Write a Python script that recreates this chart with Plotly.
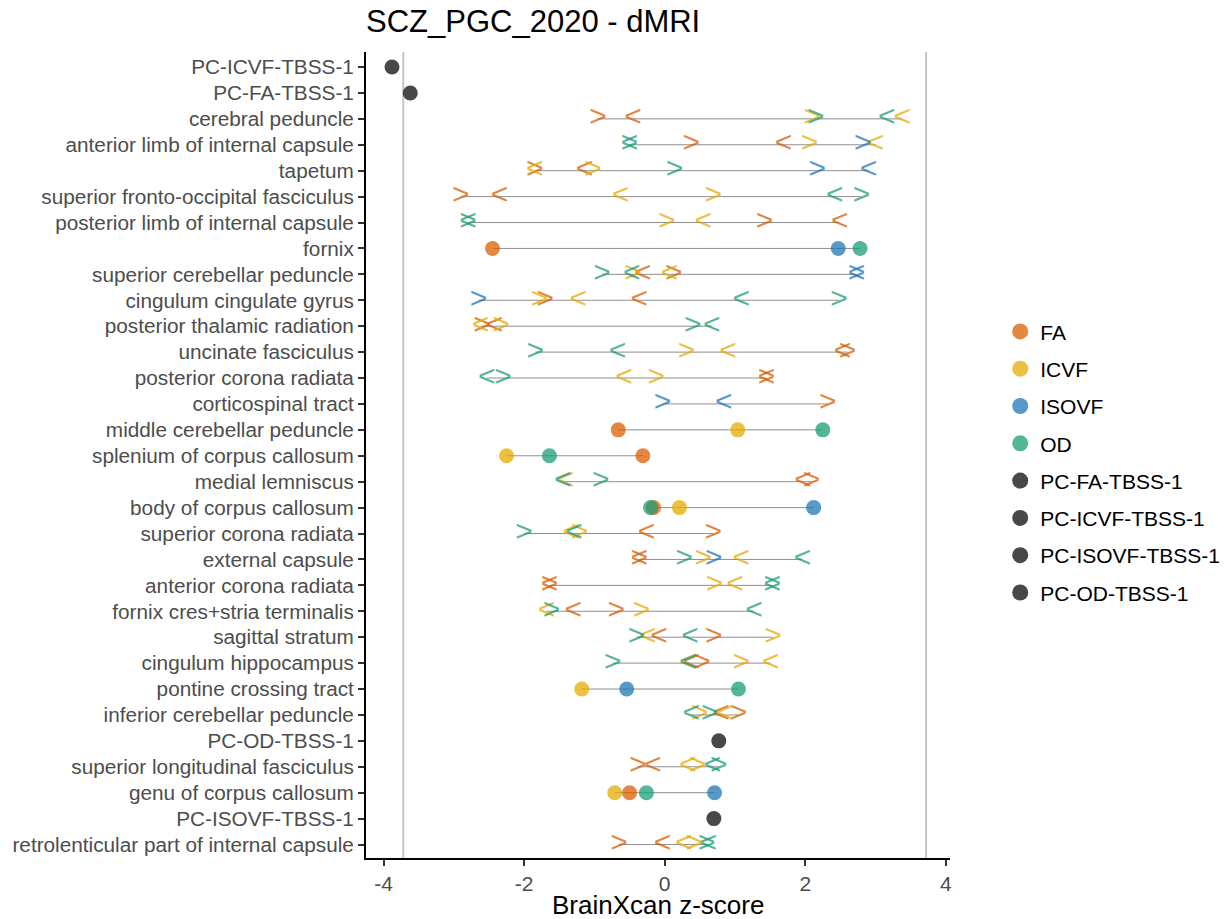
import plotly.graph_objects as go

# ---------------- data ----------------
regions = [
    "PC-ICVF-TBSS-1", "PC-FA-TBSS-1", "cerebral peduncle",
    "anterior limb of internal capsule", "tapetum",
    "superior fronto-occipital fasciculus", "posterior limb of internal capsule",
    "fornix", "superior cerebellar peduncle", "cingulum cingulate gyrus",
    "posterior thalamic radiation", "uncinate fasciculus", "posterior corona radiata",
    "corticospinal tract", "middle cerebellar peduncle", "splenium of corpus callosum",
    "medial lemniscus", "body of corpus callosum", "superior corona radiata",
    "external capsule", "anterior corona radiata", "fornix cres+stria terminalis",
    "sagittal stratum", "cingulum hippocampus", "pontine crossing tract",
    "inferior cerebellar peduncle", "PC-OD-TBSS-1", "superior longitudinal fasciculus",
    "genu of corpus callosum", "PC-ISOVF-TBSS-1", "retrolenticular part of internal capsule",
]

modalities = ["FA", "ICVF", "ISOVF", "OD"]
pc_names = ["PC-FA-TBSS-1", "PC-ICVF-TBSS-1", "PC-ISOVF-TBSS-1", "PC-OD-TBSS-1"]
pc_values = [-3.62, -3.88, 0.70, 0.77]

threshold = 3.72
x_ticks = [-4, -2, 0, 2, 4]

# circles (midline tracts)
fa_circle = {"fornix": -2.45, "middle cerebellar peduncle": -0.66,
             "splenium of corpus callosum": -0.31, "body of corpus callosum": -0.16,
             "genu of corpus callosum": -0.50}
icvf_circle = {"middle cerebellar peduncle": 1.04, "splenium of corpus callosum": -2.25,
               "body of corpus callosum": 0.21, "pontine crossing tract": -1.18,
               "genu of corpus callosum": -0.71}
isovf_circle = {"fornix": 2.47, "body of corpus callosum": 2.12,
                "pontine crossing tract": -0.54, "genu of corpus callosum": 0.71}
od_circle = {"fornix": 2.78, "middle cerebellar peduncle": 2.25,
             "splenium of corpus callosum": -1.64, "body of corpus callosum": -0.20,
             "pontine crossing tract": 1.05, "genu of corpus callosum": -0.26}

# ">" markers
fa_gt = {"cerebral peduncle": -0.95, "anterior limb of internal capsule": 0.38,
         "tapetum": -1.85, "superior fronto-occipital fasciculus": -2.90,
         "posterior limb of internal capsule": 1.42, "superior cerebellar peduncle": 0.13,
         "cingulum cingulate gyrus": -1.70, "posterior thalamic radiation": -2.60,
         "uncinate fasciculus": 2.60, "posterior corona radiata": 1.45,
         "corticospinal tract": 2.32, "medial lemniscus": 2.09,
         "superior corona radiata": 0.69, "external capsule": -0.36,
         "anterior corona radiata": -1.64, "fornix cres+stria terminalis": -0.69,
         "sagittal stratum": 0.70, "cingulum hippocampus": 0.53,
         "inferior cerebellar peduncle": 1.05, "superior longitudinal fasciculus": -0.38,
         "retrolenticular part of internal capsule": -0.65}
icvf_gt = {"cerebral peduncle": 2.10, "anterior limb of internal capsule": 2.06,
           "tapetum": -1.02, "superior fronto-occipital fasciculus": 0.69,
           "posterior limb of internal capsule": 0.03, "superior cerebellar peduncle": -0.45,
           "cingulum cingulate gyrus": -1.78, "posterior thalamic radiation": -2.33,
           "uncinate fasciculus": 0.31, "posterior corona radiata": -0.12,
           "superior corona radiata": -1.21, "external capsule": 0.55,
           "anterior corona radiata": 0.71, "fornix cres+stria terminalis": -0.33,
           "sagittal stratum": 1.54, "cingulum hippocampus": 1.09,
           "inferior cerebellar peduncle": 0.50, "superior longitudinal fasciculus": 0.47,
           "retrolenticular part of internal capsule": 0.42}
isovf_gt = {"anterior limb of internal capsule": 2.82, "tapetum": 2.17,
            "superior cerebellar peduncle": 2.73, "cingulum cingulate gyrus": -2.65,
            "corticospinal tract": -0.03, "external capsule": 0.70}
od_gt = {"cerebral peduncle": 2.15, "anterior limb of internal capsule": -0.50,
         "tapetum": 0.14, "superior fronto-occipital fasciculus": 2.80,
         "posterior limb of internal capsule": -2.80, "superior cerebellar peduncle": -0.89,
         "cingulum cingulate gyrus": 2.48, "posterior thalamic radiation": 0.40,
         "uncinate fasciculus": -1.84, "posterior corona radiata": -2.30,
         "medial lemniscus": -0.91, "superior corona radiata": -2.00,
         "external capsule": 0.28, "anterior corona radiata": 1.53,
         "fornix cres+stria terminalis": -1.61, "sagittal stratum": -0.40,
         "cingulum hippocampus": -0.74, "inferior cerebellar peduncle": 0.64,
         "superior longitudinal fasciculus": 0.77,
         "retrolenticular part of internal capsule": 0.60}

# "<" markers
fa_lt = {"cerebral peduncle": -0.45, "anterior limb of internal capsule": 1.69,
         "tapetum": -1.14, "superior fronto-occipital fasciculus": -2.35,
         "posterior limb of internal capsule": 2.49, "superior cerebellar peduncle": -0.31,
         "cingulum cingulate gyrus": -0.36, "posterior thalamic radiation": -2.42,
         "uncinate fasciculus": 2.53, "posterior corona radiata": 1.45,
         "medial lemniscus": 1.97, "superior corona radiata": -0.26,
         "external capsule": -0.36, "anterior corona radiata": -1.64,
         "fornix cres+stria terminalis": -1.30, "sagittal stratum": -0.08,
         "cingulum hippocampus": 0.38, "inferior cerebellar peduncle": 0.80,
         "superior longitudinal fasciculus": -0.17,
         "retrolenticular part of internal capsule": -0.03}
icvf_lt = {"cerebral peduncle": 3.38, "anterior limb of internal capsule": 3.00,
           "tapetum": -1.85, "superior fronto-occipital fasciculus": -0.63,
           "posterior limb of internal capsule": 0.55, "superior cerebellar peduncle": 0.07,
           "cingulum cingulate gyrus": -1.23, "posterior thalamic radiation": -2.62,
           "uncinate fasciculus": 0.90, "posterior corona radiata": -0.58,
           "medial lemniscus": -1.41, "superior corona radiata": -1.33,
           "external capsule": 1.09, "anterior corona radiata": 1.00,
           "fornix cres+stria terminalis": -1.68, "sagittal stratum": -0.24,
           "cingulum hippocampus": 1.51, "inferior cerebellar peduncle": 0.86,
           "superior longitudinal fasciculus": 0.33,
           "retrolenticular part of internal capsule": 0.27}
isovf_lt = {"tapetum": 2.90, "superior cerebellar peduncle": 2.73,
            "corticospinal tract": 0.84}
od_lt = {"cerebral peduncle": 3.16, "anterior limb of internal capsule": -0.50,
         "superior fronto-occipital fasciculus": 2.42,
         "posterior limb of internal capsule": -2.80, "superior cerebellar peduncle": -0.47,
         "cingulum cingulate gyrus": 1.09, "posterior thalamic radiation": 0.67,
         "uncinate fasciculus": -0.67, "posterior corona radiata": -2.53,
         "medial lemniscus": -1.45, "superior corona radiata": -1.29,
         "external capsule": 1.96, "anterior corona radiata": 1.53,
         "fornix cres+stria terminalis": 1.27, "sagittal stratum": 0.36,
         "cingulum hippocampus": 0.33, "inferior cerebellar peduncle": 0.38,
         "superior longitudinal fasciculus": 0.68,
         "retrolenticular part of internal capsule": 0.62}

# ---------------- style ----------------
colors = {"FA": "217,95,2", "ICVF": "230,171,2", "ISOVF": "31,120,180", "OD": "27,158,119"}
pc_color = "rgba(20,20,20,0.78)"
alpha = 0.75
FONT = "Liberation Sans, Arial, sans-serif"

circles = {"FA": fa_circle, "ICVF": icvf_circle, "ISOVF": isovf_circle, "OD": od_circle}
gts = {"FA": fa_gt, "ICVF": icvf_gt, "ISOVF": isovf_gt, "OD": od_gt}
lts = {"FA": fa_lt, "ICVF": icvf_lt, "ISOVF": isovf_lt, "OD": od_lt}

fig = go.Figure()

# connecting gray lines: from min to max value in each row
row_vals = {r: [] for r in regions}
for d in list(circles.values()) + list(gts.values()) + list(lts.values()):
    for r, v in d.items():
        row_vals[r].append(v)
lx, ly = [], []
for r in regions:
    vals = row_vals[r]
    if len(vals) > 1:
        lx += [min(vals), max(vals), None]
        ly += [r, r, None]
fig.add_trace(go.Scatter(x=lx, y=ly, mode="lines", line=dict(color="#8f8f8f", width=1),
                         showlegend=False, hoverinfo="skip"))

# chevrons as text glyphs
for m in modalities:
    for d, glyph in ((gts[m], ">"), (lts[m], "<")):
        if not d:
            continue
        fig.add_trace(go.Scatter(
            x=list(d.values()), y=list(d.keys()), mode="text",
            text=[glyph] * len(d), textposition="middle center",
            textfont=dict(family=FONT, size=30, color=f"rgba({colors[m]},{alpha})"),
            showlegend=False, hoverinfo="skip"))

# circles
for m in modalities:
    d = circles[m]
    fig.add_trace(go.Scatter(
        x=list(d.values()), y=list(d.keys()), mode="markers", showlegend=False,
        marker=dict(size=15, color=f"rgba({colors[m]},{alpha})", line=dict(width=0))))

for n, v in zip(pc_names, pc_values):
    fig.add_trace(go.Scatter(
        x=[v], y=[n], mode="markers", showlegend=False,
        marker=dict(size=15, color=pc_color, line=dict(width=0))))

# legend entries (larger keys, as in the reference)
legend_names = modalities + pc_names
legend_cols = [f"rgba({colors[m]},{alpha})" for m in modalities] + [pc_color] * 4
for i, (n, c) in enumerate(zip(legend_names, legend_cols)):
    fig.add_trace(go.Scatter(
        x=[None], y=[None], mode="markers", name=n, legendgroup=f"g{i}",
        marker=dict(size=20, color=c, line=dict(width=0))))

# threshold lines
for t in (-threshold, threshold):
    fig.add_shape(type="line", xref="x", yref="paper", x0=t, x1=t, y0=0, y1=1,
                  line=dict(color="#c4c4c4", width=2), layer="below")

fig.add_annotation(text="BrainXcan z-score", xref="paper", yref="paper",
                   x=0.5, y=-(905 - 858) / 806, xanchor="center", yanchor="middle",
                   showarrow=False, font=dict(size=26, color="black", family=FONT))

fig.update_layout(
    width=1225, height=919,
    paper_bgcolor="white", plot_bgcolor="white",
    margin=dict(l=366, r=275, t=52, b=61, autoexpand=False),
    font=dict(family=FONT, color="#4d4d4d"),
    title=dict(text="SCZ_PGC_2020 - dMRI", x=366 / 1225, xanchor="left", xref="container",
               y=1 - 21 / 919, yanchor="middle", yref="container",
               font=dict(size=31, color="black", family=FONT)),
    legend=dict(x=1.086, xanchor="left", y=0.491, yanchor="middle",
                font=dict(size=21, color="black", family=FONT),
                tracegroupgap=7, itemsizing="trace", bgcolor="rgba(0,0,0,0)"),
    showlegend=True,
)
fig.update_xaxes(range=[-4.25, 4.06], tickvals=x_ticks, ticktext=[str(t) for t in x_ticks],
                 showgrid=False, zeroline=False, showline=True, linecolor="black", linewidth=2,
                 ticks="outside", ticklen=6, tickwidth=1.5, tickcolor="#333333",
                 tickfont=dict(size=21, color="#4d4d4d"), automargin=False)
fig.update_yaxes(type="category", categoryorder="array", categoryarray=regions,
                 range=[len(regions) - 1 + 0.52, -0.58],
                 showgrid=False, zeroline=False, showline=True, linecolor="black", linewidth=2,
                 ticks="outside", ticklen=6, tickwidth=1.5, tickcolor="#333333",
                 tickfont=dict(size=20.75, color="#4d4d4d"), automargin=False)

fig.write_html("out.html", config={"displayModeBar": False},
               post_script="document.body.style.margin='0';")
